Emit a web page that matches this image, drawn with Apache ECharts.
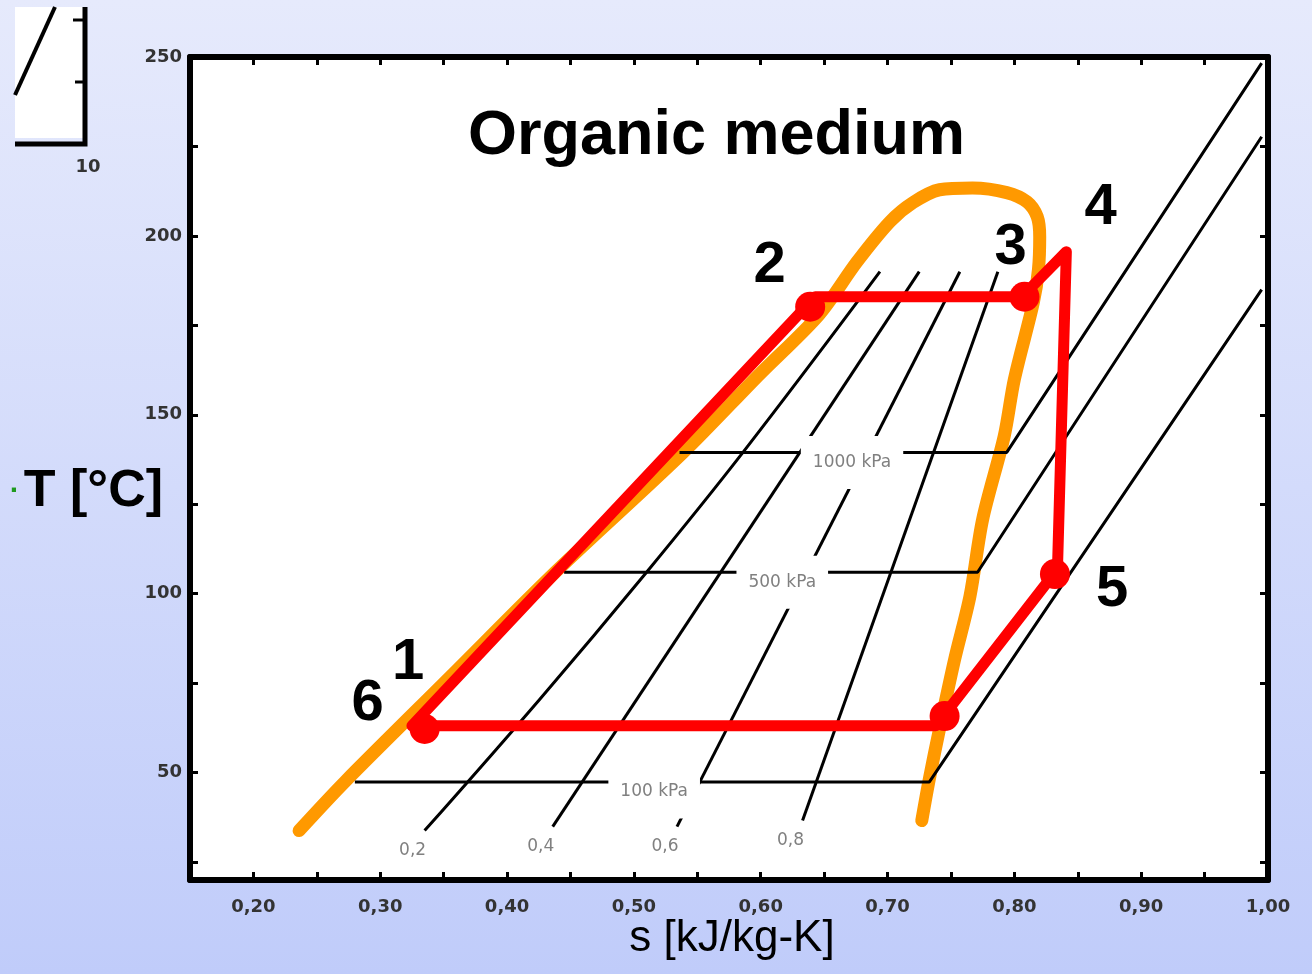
<!DOCTYPE html>
<html>
<head>
<meta charset="utf-8">
<title>Organic medium - T-s</title>
<script src="https://cdn.jsdelivr.net/npm/echarts@6/dist/echarts.min.js"></script>
<style>
  html, body { margin: 0; padding: 0; }
  #ts { width: 1312px; height: 974px; }
</style>
</head>
<body>
<div id="ts"></div>
<script>
// values: s [kJ/kg-K], T [°C]

// saturation dome (orange)
const domeS = [0.236, 0.272, 0.355, 0.438, 0.539, 0.599, 0.646, 0.676, 0.702, 0.720, 0.741, 0.767, 0.794,
  0.810, 0.818, 0.820, 0.819, 0.815, 0.800, 0.792, 0.775, 0.765, 0.753, 0.741, 0.733, 0.727];
const domeT = [33.8, 47.4, 76.7, 106.0, 139.5, 161.3, 178.0, 192.8, 204.0, 209.3, 212.9, 213.4, 212.1,
  209.5, 205.4, 199.8, 190.6, 181.4, 159.9, 144.0, 120.8, 99.3, 81.8, 62.2, 48.3, 36.6];

// cycle (red): 1/6 -> 2 -> 3 -> 4 -> 5 -> back on the dome -> 1/6
const cycleS = [0.325, 0.643, 0.806, 0.841, 0.834, 0.738, 0.325];
const cycleT = [63.1, 183.0, 183.0, 195.6, 106.9, 63.1, 63.1];
// the round blobs on the cycle
const blobS = [0.335, 0.639, 0.808, 0.832, 0.745];
const blobT = [62.2, 180.2, 183.0, 105.5, 65.8];

// state point numbers
const pointNames = ['1', '2', '3', '4', '5', '6'];
const pointS = [0.322, 0.607, 0.797, 0.868, 0.877, 0.290];
const pointT = [80.6, 191.7, 196.7, 207.9, 101.0, 69.2];

// isobars
const isobarNames = ['1000 kPa', '500 kPa', '100 kPa'];
const isobarS = [
  [0.536, 0.794, 0.995],
  [0.445, 0.771, 0.995],
  [0.280, 0.733, 0.995]
];
const isobarT = [
  [139.5, 139.5, 248.3],
  [106.0, 106.0, 227.7],
  [47.4, 47.4, 185.0]
];
const isobarLabelS = [0.672, 0.617, 0.516];

// lines of constant quality
const qualityNames = ['0,2', '0,4', '0,6', '0,8'];
const qualityS = [
  [0.335, 0.426, 0.510, 0.586, 0.694],
  [0.436, 0.725],
  [0.534, 0.757],
  [0.633, 0.787]
];
const qualityT = [
  [33.8, 70.6, 106.0, 139.5, 190.0],
  [34.9, 190.0],
  [34.9, 190.0],
  [36.6, 190.0]
];

// axis labels
const sLabels = [0.2, 0.3, 0.4, 0.5, 0.6, 0.7, 0.8, 0.9, 1.0];
const TLabels = [50, 100, 150, 200, 250];

function zip (xs, ys) {
  return xs.map(function (x, i) { return [x, ys[i]]; });
}

const FONT = 'Liberation Sans, Arial, sans-serif';
const SMALL = 'DejaVu Sans, sans-serif';

const myChart = echarts.init(document.getElementById('ts'));

// black lines (isobars + quality)
const blackLines = [];
isobarS.forEach(function (s, i) {
  blackLines.push({
    type: 'line', name: isobarNames[i], data: zip(s, isobarT[i]),
    showSymbol: false, symbol: 'none', silent: true, z: 3,
    lineStyle: { color: '#000', width: 3 }
  });
});
qualityS.forEach(function (s, i) {
  blackLines.push({
    type: 'line', name: 'x ' + qualityNames[i], data: zip(s, qualityT[i]),
    showSymbol: false, symbol: 'none', silent: true, z: 3, smooth: 0.4,
    lineStyle: { color: '#000', width: 3 }
  });
});

const tickAxis = {
  axisLine: { lineStyle: { color: '#000', width: 6 } },
  axisTick: { inside: true, length: 8, lineStyle: { color: '#000', width: 3 } },
  splitLine: { show: false }
};

const option = {
  animation: false,
  backgroundColor: {
    type: 'linear', x: 0, y: 0, x2: 0, y2: 1,
    colorStops: [{ offset: 0, color: '#E6EAFC' }, { offset: 1, color: '#C0CCFA' }]
  },
  textStyle: { fontFamily: FONT },
  title: {
    text: 'Organic medium',
    left: 463,
    top: 100,
    textStyle: { fontSize: 63, fontWeight: 'bold', color: '#000', fontFamily: FONT }
  },
  grid: {
    left: 190, right: 44, top: 57, bottom: 94,
    outerBoundsMode: 'none', containLabel: false,
    show: true, backgroundColor: '#fff', borderWidth: 0
  },
  xAxis: [
    Object.assign({
      type: 'value', min: 0.15, max: 1.0, interval: 0.05, position: 'bottom',
      axisLabel: {
        margin: 18, fontSize: 18, fontWeight: 'bold', color: '#333', fontFamily: SMALL,
        formatter: function (v) {
          const hit = sLabels.some(function (t) { return Math.abs(t - v) < 1e-6; });
          return hit ? v.toFixed(2).replace('.', ',') : '';
        }
      },
      name: 's [kJ/kg-K]',
      nameLocation: 'middle',
      nameGap: 37,
      nameMoveOverlap: false,
      nameTextStyle: { fontSize: 44, color: '#000', fontFamily: FONT, padding: [0, 0, 0, 6] }
    }, tickAxis),
    Object.assign({
      type: 'value', min: 0.15, max: 1.0, interval: 0.05, position: 'top',
      axisLabel: { show: false }
    }, tickAxis)
  ],
  yAxis: [
    Object.assign({
      type: 'value', min: 20, max: 250, minInterval: 25, maxInterval: 25, position: 'left',
      axisLabel: {
        margin: 8, fontSize: 18, fontWeight: 'bold', color: '#333', fontFamily: SMALL,
        formatter: function (v) { return TLabels.indexOf(v) >= 0 ? String(v) : ''; }
      },
      name: '{g|·}T [°C]',
      nameLocation: 'middle',
      nameRotate: 0,
      nameGap: 27,
      nameMoveOverlap: false,
      nameTextStyle: {
        fontSize: 52, fontWeight: 'bold', color: '#000', fontFamily: FONT, padding: [46, 0, 0, 0],
        rich: { g: { fontSize: 30, color: '#1f9a1f', padding: [0, 4, 0, 0] } }
      }
    }, tickAxis),
    Object.assign({
      type: 'value', min: 20, max: 250, minInterval: 25, maxInterval: 25, position: 'right',
      axisLabel: { show: false }
    }, tickAxis)
  ],
  graphic: [
    // piece of the neighbouring chart in the upper left corner
    { type: 'rect', shape: { x: 15, y: 7, width: 70, height: 131 }, style: { fill: '#fff' }, z: 1 },
    { type: 'line', shape: { x1: 15, y1: 95, x2: 55, y2: 7 }, style: { stroke: '#000', lineWidth: 4 }, z: 2 },
    { type: 'polyline', shape: { points: [[85, 7], [85, 144], [15, 144]] }, style: { stroke: '#000', lineWidth: 5, fill: null }, z: 2 },
    { type: 'line', shape: { x1: 73, y1: 20, x2: 85, y2: 20 }, style: { stroke: '#000', lineWidth: 3 }, z: 2 },
    { type: 'line', shape: { x1: 75, y1: 82, x2: 85, y2: 82 }, style: { stroke: '#000', lineWidth: 3 }, z: 2 },
    {
      type: 'text', x: 88, y: 167, z: 2,
      style: { text: '10', fontSize: 18, fontWeight: 'bold', fill: '#333', fontFamily: SMALL, align: 'center', verticalAlign: 'middle' }
    }
  ],
  series: [
    {
      type: 'line', name: 'dome', data: zip(domeS, domeT),
      showSymbol: false, symbol: 'none', silent: true, z: 2, smooth: 0.3,
      lineStyle: { color: '#FF9900', width: 13, cap: 'round', join: 'round' }
    }
  ].concat(blackLines).concat([
    {
      type: 'scatter', name: 'isobar labels', silent: true, z: 4,
      symbolSize: 1, itemStyle: { color: 'rgba(0,0,0,0)', opacity: 1 },
      data: isobarNames.map(function (n, i) { return { name: n, value: [isobarLabelS[i], isobarT[i][0]] }; }),
      label: {
        show: true, position: 'inside', formatter: '{b}', offset: [0, 10],
        backgroundColor: '#fff', padding: [12, 12, 24, 12],
        fontSize: 17, color: '#808080', fontFamily: SMALL
      }
    },
    {
      type: 'scatter', name: 'quality labels', silent: true, z: 4,
      symbolSize: 1, itemStyle: { color: 'rgba(0,0,0,0)', opacity: 1 },
      data: qualityNames.map(function (n, i) { return { name: n, value: [qualityS[i][0], qualityT[i][0]] }; }),
      label: {
        show: true, position: 'inside', formatter: '{b}', offset: [-12, 20],
        fontSize: 17, color: '#808080', fontFamily: SMALL
      }
    },
    {
      type: 'line', name: 'cycle', data: zip(cycleS, cycleT),
      showSymbol: false, symbol: 'none', silent: true, z: 5,
      lineStyle: { color: '#FF0000', width: 11, join: 'round', cap: 'round' }
    },
    {
      type: 'scatter', name: 'cycle points', silent: true, z: 5,
      data: zip(blobS, blobT), symbolSize: 30,
      itemStyle: { color: '#FF0000', opacity: 1 }
    },
    {
      type: 'scatter', name: 'point numbers', silent: true, z: 6,
      symbolSize: 1, itemStyle: { color: 'rgba(0,0,0,0)', opacity: 1 },
      data: pointNames.map(function (n, i) { return { name: n, value: [pointS[i], pointT[i]] }; }),
      label: {
        show: true, position: 'inside', formatter: '{b}',
        fontSize: 58, fontWeight: 'bold', color: '#000', fontFamily: FONT
      }
    }
  ])
};

myChart.setOption(option);
window.addEventListener('resize', function () {
  myChart.resize();
});
</script>
</body>
</html>
